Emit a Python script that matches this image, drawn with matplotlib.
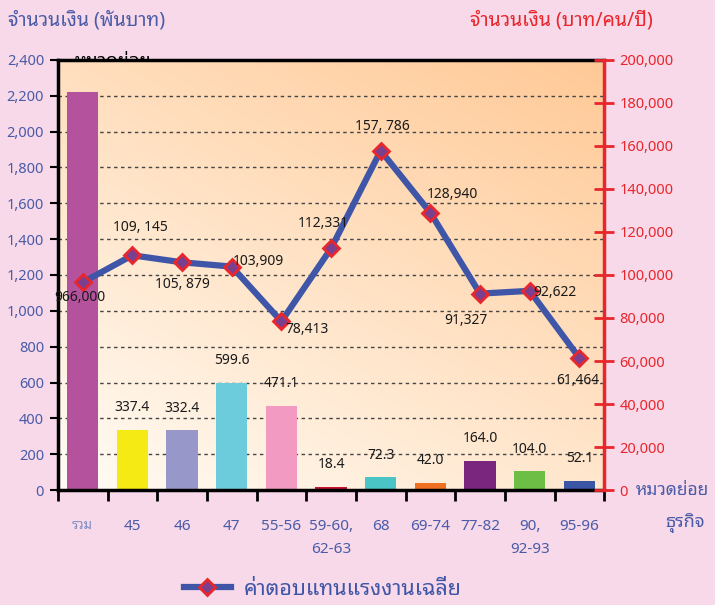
"""Average labour compensation by sub-category, bars and line on twin axes."""

import matplotlib
matplotlib.use("Agg")
import matplotlib.pyplot as plt
import numpy as np
from matplotlib.lines import Line2D

plt.rcParams['font.family'] = ['Noto Sans Thai Looped', 'DejaVu Sans']

# Data
categories = ['รวม', '45', '46', '47', '55-56', '59-60,\n62-63', '68',
              '69-74', '77-82', '90,\n92-93', '95-96']
amount_k = [2220.0, 337.4, 332.4, 599.6, 471.1, 18.4, 72.3, 42.0, 164.0, 104.0, 52.1]
amount_labels = ['', '337.4', '332.4', '599.6', '471.1', '18.4', '72.3',
                 '42.0', '164.0', '104.0', '52.1']
avg_pay = [96600, 109145, 105879, 103909, 78413, 112331, 157786, 128940,
           91327, 92622, 61464]
avg_pay_labels = ['966,000', '109, 145', '105, 879', '103,909', '78,413', '112,331',
                  '157, 786', '128,940', '91,327', '92,622', '61,464']
bar_colors = ['#B5529E', '#F5EA14', '#9797C9', '#6DCCDC', '#F29AC2', '#C8142E',
              '#4AC4C4', '#F07022', '#7B267E', '#6CBE45', '#3A56A5']

# label offsets in pixels (dx, dy) relative to each point
line_offsets = [(-3, -15), (8, 28), (0, -22), (27, 5), (26, -8), (-8, 25),
                (2, 24), (22, 18), (-14, -27), (25, -2), (-2, -23)]

BLUE = '#4A5BA8'
RED = '#E8262C'
LINE_BLUE = '#3F56A8'

fig = plt.figure(figsize=(7.15, 6.05), dpi=100)
fig.patch.set_facecolor('#F7D9E9')

# text hidden behind the top of the plot area
fig.text(0.105, 0.899, 'หมวดย่อย', fontsize=13, color='black', va='center',
         zorder=-1)

ax = fig.add_axes([0.081, 0.19, 0.764, 0.711])
x = np.arange(len(categories))

# gradient background
gx, gy = np.meshgrid(np.linspace(0, 1, 200), np.linspace(0, 1, 200))
t = np.clip(0.42 * gx + 0.58 * gy, 0, 1)[..., None]
c0 = np.array([255, 252, 245]) / 255
c1 = np.array([255, 201, 150]) / 255
grad = c0 + (c1 - c0) * t
ax.imshow(grad, extent=[0, 1, 0, 1], transform=ax.transAxes, origin='lower',
          aspect='auto', zorder=0, interpolation='bilinear')

ax.bar(x, amount_k, width=0.63, color=bar_colors, zorder=2)
for xi, v, lab in zip(x, amount_k, amount_labels):
    if lab:
        ax.annotate(lab, (xi, v), xytext=(0, 22), textcoords='offset pixels',
                    ha='center', va='center', fontsize=10, color='#1a1a1a',
                    zorder=3)

ax.set_xlim(-0.5, len(categories) - 0.5)
ax.set_ylim(0, 2400)
ax.set_yticks(np.arange(0, 2401, 200))
ax.set_yticklabels([f'{v:,}' for v in range(0, 2401, 200)], fontsize=10.5,
                   color=BLUE)
ax.yaxis.grid(True, linestyle=(0, (2.5, 2.5)), color='#444444', linewidth=1)
ax.set_axisbelow(True)

ax.set_xticks(x)
ax.set_xticklabels(categories, fontsize=11, color=BLUE, va='top')
for lbl in ax.get_xticklabels():
    lbl.set_linespacing(1.7)
ax.get_xticklabels()[0].set_color('#7F8CC2')
ax.get_xticklabels()[0].set_fontsize(9.5)
ax.set_xticks(np.arange(-0.5, len(categories)), minor=True)
ax.tick_params(axis='x', which='major', length=0, pad=21)
ax.tick_params(axis='x', which='minor', length=8, width=2, color='black',
               direction='out')
ax.tick_params(axis='y', length=6, width=1.5, color='black', direction='out',
               pad=4)

for side in ['left', 'top', 'bottom']:
    ax.spines[side].set_linewidth(2.5)
    ax.spines[side].set_color('black')
ax.spines['right'].set_visible(False)

# secondary axis
ax2 = ax.twinx()
ax2.set_ylim(0, 200000)
ax2.set_yticks(np.arange(0, 200001, 20000))
ax2.set_yticklabels([f'{v:,}' for v in range(0, 200001, 20000)], fontsize=10.5,
                    color=RED)
ax2.tick_params(axis='y', length=14, width=2, color=RED, direction='inout',
                pad=4)
ax2.spines['right'].set_color(RED)
ax2.spines['right'].set_linewidth(2.5)
for side in ['left', 'top', 'bottom']:
    ax2.spines[side].set_visible(False)

ax2.plot(x, avg_pay, color=LINE_BLUE, linewidth=4.5, marker='D', markersize=8,
         markerfacecolor='#7B3F8F', markeredgecolor=RED, markeredgewidth=2,
         zorder=4)
for xi, v, lab, (dx, dy) in zip(x, avg_pay, avg_pay_labels, line_offsets):
    ax2.annotate(lab, (xi, v), xytext=(dx, dy), textcoords='offset pixels',
                 ha='center', va='center', fontsize=10, color='#1a1a1a',
                 zorder=5)

# axis titles and extra labels
fig.text(0.011, 0.966, 'จำนวนเงิน (พันบาท)', fontsize=14, color=BLUE,
         va='center', ha='left')
fig.text(0.657, 0.966, 'จำนวนเงิน (บาท/คน/ปี)', fontsize=14, color=RED,
         va='center', ha='left')
fig.text(0.889, 0.19, 'หมวดย่อย', fontsize=12.5, color=BLUE, va='center',
         ha='left')
fig.text(0.958, 0.135, 'ธุรกิจ', fontsize=13, color=BLUE, va='center',
         ha='center')

# legend
handle = Line2D([], [], color=LINE_BLUE, linewidth=4.5, marker='D', markersize=8,
                markerfacecolor='#7B3F8F', markeredgecolor=RED,
                markeredgewidth=2)
fig.legend(handles=[handle], labels=['ค่าตอบแทนแรงงานเฉลี่ย'], loc='center left',
           bbox_to_anchor=(0.236, 0.026), frameon=False, fontsize=15.5,
           handlelength=2.2, handletextpad=0.6, labelcolor=LINE_BLUE,
           borderpad=0.2)

fig.savefig('out.png', dpi=100, facecolor=fig.get_facecolor())
